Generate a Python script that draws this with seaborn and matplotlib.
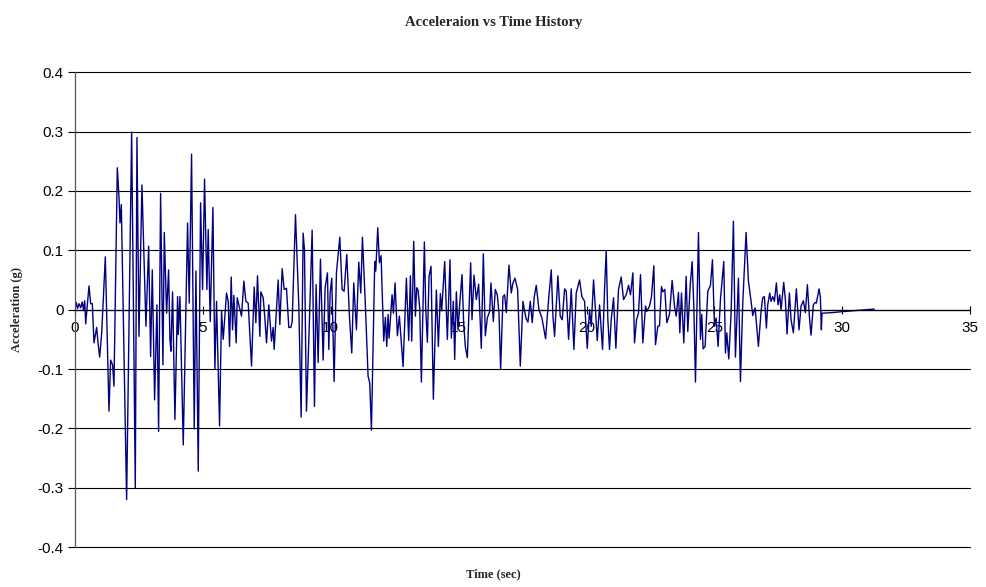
import matplotlib
matplotlib.use("Agg")
import matplotlib.pyplot as plt
import seaborn as sns
import pandas as pd
import numpy as np

# time (s) and acceleration (g)
time_s = [
    0.00, 0.05, 0.10, 0.16, 0.22, 0.28, 0.33, 0.38, 0.417, 0.547, 0.612, 0.677,
    0.742, 0.846, 0.898, 0.964, 1.042, 1.185, 1.328, 1.393, 1.471, 1.523, 1.654,
    1.719, 1.758, 1.810, 2.018, 2.214, 2.357, 2.422, 2.500, 2.617, 2.773, 2.878,
    2.956, 3.021, 3.112, 3.203, 3.268, 3.346, 3.437, 3.490, 3.581, 3.659, 3.711,
    3.750, 3.815, 3.906, 4.010, 4.036, 4.102, 4.232, 4.401, 4.466, 4.557, 4.661,
    4.727, 4.818, 4.909, 4.987, 5.065, 5.156, 5.208, 5.286, 5.391, 5.469, 5.534,
    5.651, 5.729, 5.794, 5.859, 5.924, 5.990, 6.042, 6.107, 6.159, 6.211, 6.302,
    6.341, 6.419, 6.510, 6.602, 6.680, 6.771, 6.901, 7.005, 7.070, 7.135, 7.227,
    7.266, 7.357, 7.422,
    7.487, 7.578, 7.682, 7.747, 7.786, 7.943, 8.008, 8.099, 8.177, 8.268, 8.359,
    8.438, 8.490, 8.620, 8.750, 8.841, 8.919, 8.971, 9.049, 9.154, 9.271, 9.362,
    9.427, 9.505, 9.596, 9.701, 9.779, 9.870, 9.922, 9.974, 10.039, 10.130,
    10.221, 10.352, 10.443, 10.521, 10.625, 10.729, 10.820, 10.898, 11.003, 11.094,
    11.172, 11.237, 11.354, 11.458, 11.523, 11.589, 11.719, 11.758, 11.836, 11.901,
    11.966, 12.070, 12.135, 12.188, 12.240, 12.279, 12.396, 12.448, 12.513, 12.604,
    12.682, 12.826, 12.956, 13.047, 13.112, 13.164, 13.242, 13.307, 13.359, 13.411,
    13.477, 13.542, 13.659, 13.711, 13.776, 13.841, 13.919, 14.010, 14.128, 14.206,
    14.284, 14.336, 14.453, 14.557, 14.661, 14.714, 14.792, 14.844,
    14.909, 14.974, 15.039, 15.130, 15.195, 15.260, 15.339, 15.469, 15.521, 15.599,
    15.690, 15.781, 15.885, 15.964, 16.042, 16.120, 16.211, 16.263, 16.354, 16.432,
    16.510, 16.576, 16.641, 16.732, 16.797, 16.862, 16.966, 17.057, 17.122, 17.201,
    17.305, 17.409, 17.513, 17.578, 17.643, 17.708, 17.799, 17.878, 17.956, 18.034,
    18.138, 18.255, 18.398, 18.516,
    18.620, 18.685, 18.750, 18.880, 18.971, 19.049, 19.141, 19.206, 19.297, 19.401,
    19.505, 19.596, 19.727, 19.818, 19.922, 20.026, 20.117, 20.182, 20.273, 20.352,
    20.417, 20.508, 20.625, 20.703, 20.768, 20.833, 20.898, 20.964, 21.055, 21.146,
    21.250, 21.354, 21.445, 21.549, 21.641, 21.719, 21.810, 21.875, 21.953, 22.031,
    22.109, 22.201,
    22.305, 22.357, 22.461, 22.539, 22.630, 22.695, 22.786, 22.852, 22.930, 22.982,
    23.060, 23.138, 23.242, 23.346, 23.438, 23.503, 23.594, 23.646, 23.711, 23.802,
    23.893, 23.958, 24.049, 24.128, 24.193, 24.258, 24.375, 24.453, 24.505, 24.557,
    24.635, 24.740, 24.844, 24.922, 25.000, 25.065, 25.143, 25.234, 25.365, 25.430,
    25.482, 25.560, 25.651, 25.742, 25.820,
    25.938, 26.016, 26.107, 26.237, 26.328, 26.432, 26.497, 26.589, 26.719, 26.823,
    26.888, 26.953, 27.031, 27.083, 27.161, 27.214, 27.279, 27.344, 27.422, 27.487,
    27.552, 27.604, 27.708, 27.773, 27.839, 27.930, 27.995, 28.086, 28.203, 28.307,
    28.385, 28.477, 28.555, 28.633, 28.711, 28.776, 28.867, 28.932, 28.984, 29.089,
    29.141, 29.180, 29.206, 29.600, 30.100, 30.700, 31.250,
]

accel_g = [
    0.000, 0.012, 0.002, 0.010, 0.003, 0.013, 0.000, 0.015, -0.024, 0.040, 0.010, 0.010,
    -0.056, -0.030, -0.055, -0.080, -0.040, 0.089, -0.171, -0.085, -0.093, -0.129, 0.239,
    0.190, 0.146, 0.177, -0.320, 0.299, -0.300, 0.290, -0.045, 0.210, -0.028, 0.107,
    -0.079, 0.067, -0.152, 0.008, -0.205, 0.196, -0.093, 0.130, -0.006, 0.067, -0.050,
    -0.070, 0.030, -0.185, 0.022, -0.042, 0.022, -0.228, 0.146, 0.011, 0.262, -0.201,
    0.065, -0.272, 0.180, 0.034, 0.220, 0.034, 0.135, -0.020, 0.172, -0.100, 0.014,
    -0.196, -0.003, -0.050, -0.011, 0.028, 0.014, -0.062, 0.055, -0.034, 0.024, -0.056,
    0.020, 0.006, -0.011, 0.048, 0.014, 0.011, -0.095, 0.038, -0.022, 0.057, -0.045,
    0.030, 0.020, -0.014,
    -0.056, 0.008, -0.053, -0.030, -0.067, 0.050, -0.025, 0.069, 0.034, 0.036, -0.030,
    -0.030, -0.020, 0.160, 0.006, -0.181, 0.129, 0.100, -0.171, -0.034, 0.134, -0.163,
    0.042, -0.089, 0.085, -0.085, 0.037, 0.062, -0.067, 0.028, 0.053, -0.121,
    0.062, 0.122, 0.034, 0.031, 0.093, -0.011, -0.073, 0.045, -0.034, 0.080,
    0.028, 0.122, 0.006, -0.112, -0.124, -0.203, 0.081, 0.065, 0.138, 0.079,
    0.091, -0.053, -0.013, -0.062, -0.008, -0.048, 0.025, -0.006, 0.045, -0.044,
    -0.011, -0.096, 0.053, -0.052, 0.057, -0.053, 0.115, -0.011, 0.037, 0.033,
    0.003, -0.122, 0.114, 0.003, -0.055, 0.056, 0.073, -0.151, 0.033, -0.062,
    0.027, -0.002, 0.081, -0.050, 0.084, -0.048, 0.014, -0.084,
    0.030, -0.034, 0.008, 0.059, -0.023, -0.062, -0.081, 0.079, -0.017, 0.058,
    0.017, 0.043, -0.065, 0.094, -0.044, -0.014, -0.003, 0.045, -0.020, 0.034,
    0.025, -0.005, -0.101, 0.022, 0.025, -0.005, 0.075, 0.028, 0.045, 0.053,
    0.034, -0.095, 0.014, -0.003, -0.016, -0.021, 0.014, -0.022, 0.022, 0.041,
    0.000, -0.014, -0.049, 0.017,
    0.067, -0.011, -0.045, 0.057, -0.011, -0.017, 0.035, 0.031, -0.050, 0.035,
    -0.067, 0.028, 0.050, 0.022, 0.014, -0.065, 0.000, -0.028, 0.050, -0.003,
    -0.052, 0.008, -0.067, 0.034, 0.099, -0.017, -0.067, -0.017, 0.020, -0.065,
    0.034, 0.055, 0.017, 0.025, 0.041, 0.025, 0.062, -0.056, -0.017, -0.006,
    0.059, -0.056,
    0.006, -0.003, 0.006, 0.022, 0.074, -0.059, -0.028, -0.027, 0.039, 0.030,
    0.034, -0.022, -0.008, 0.049, 0.006, -0.011, 0.029, -0.039, 0.028, -0.056,
    0.056, -0.037, 0.039, 0.081, 0.006, -0.122, 0.130, -0.050, -0.008, -0.066,
    -0.062, 0.031, 0.041, 0.084, -0.028, -0.014, -0.062, 0.017, 0.081, -0.073,
    -0.039, -0.083, -0.006, 0.149, -0.080,
    0.053, -0.121, 0.011, 0.130, 0.048, 0.014, -0.010, 0.003, -0.062, -0.003,
    0.020, 0.022, -0.031, 0.008, 0.028, 0.014, 0.022, 0.014, 0.045, 0.008,
    0.025, 0.000, 0.046, 0.017, -0.041, 0.028, -0.017, -0.039, 0.035, -0.034,
    0.006, 0.015, -0.005, 0.042, -0.011, -0.043, 0.008, 0.012, 0.011, 0.035,
    0.022, -0.034, -0.006, -0.005, -0.003, -0.001, 0.001,
]

x_ticks = [0, 5, 10, 15, 20, 25, 30, 35]
y_ticks = [-0.4, -0.3, -0.2, -0.1, 0.0, 0.1, 0.2, 0.3, 0.4]
y_tick_labels = ["-0.4", "-0.3", "-0.2", "-0.1", "0", "0.1", "0.2", "0.3", "0.4"]

df = pd.DataFrame({"Time (sec)": time_s, "Acceleration (g)": accel_g})

sns.set_style("white")
plt.rcParams["font.family"] = ["Liberation Sans", "DejaVu Sans"]

fig = plt.figure(figsize=(9.87, 5.87), dpi=100)
ax = fig.add_axes([0.076, 0.068, 0.907, 0.809])

sns.lineplot(data=df, x="Time (sec)", y="Acceleration (g)", sort=False,
             estimator=None, color="#000080", linewidth=1.0, ax=ax)

ax.set_xlim(0, 35)
ax.set_ylim(-0.4, 0.4)
ax.set_xticks(x_ticks)
ax.set_yticks(y_ticks)
ax.set_yticklabels(y_tick_labels)

# horizontal grid like the spreadsheet original
ax.yaxis.grid(True, color="black", linewidth=0.8)
ax.xaxis.grid(False)
ax.set_axisbelow(True)
for gl in ax.get_ygridlines():
    gl.set_clip_on(False)

# x axis sits on the zero line
ax.spines["bottom"].set_position(("data", 0))
ax.spines["top"].set_visible(False)
ax.spines["right"].set_visible(False)
ax.spines["left"].set_color("#555555")
ax.spines["bottom"].set_color("black")
for s in ["left", "bottom"]:
    ax.spines[s].set_linewidth(0.9)

ax.tick_params(axis="x", direction="inout", length=6, width=0.8, labelsize=11, pad=5, colors="black")
ax.tick_params(axis="y", direction="out", length=5, width=0.8, labelsize=11, pad=3, colors="black")
ax.tick_params(axis="both", bottom=True, left=True)

serif = ["Liberation Serif", "DejaVu Serif"]
ax.set_xlabel("")
ax.set_ylabel("")
fig.text(0.5, 0.962, "Acceleraion vs Time History", ha="center", va="center",
         fontsize=10.5, fontweight="bold", family=serif)
fig.text(0.5, 0.022, "Time (sec)", ha="center", va="center",
         fontsize=9, fontweight="bold", family=serif)
fig.text(0.017, 0.472, "Acceleration (g)", ha="center", va="center", rotation=90,
         fontsize=9, fontweight="bold", family=serif)

plt.savefig("out.png", dpi=100)
